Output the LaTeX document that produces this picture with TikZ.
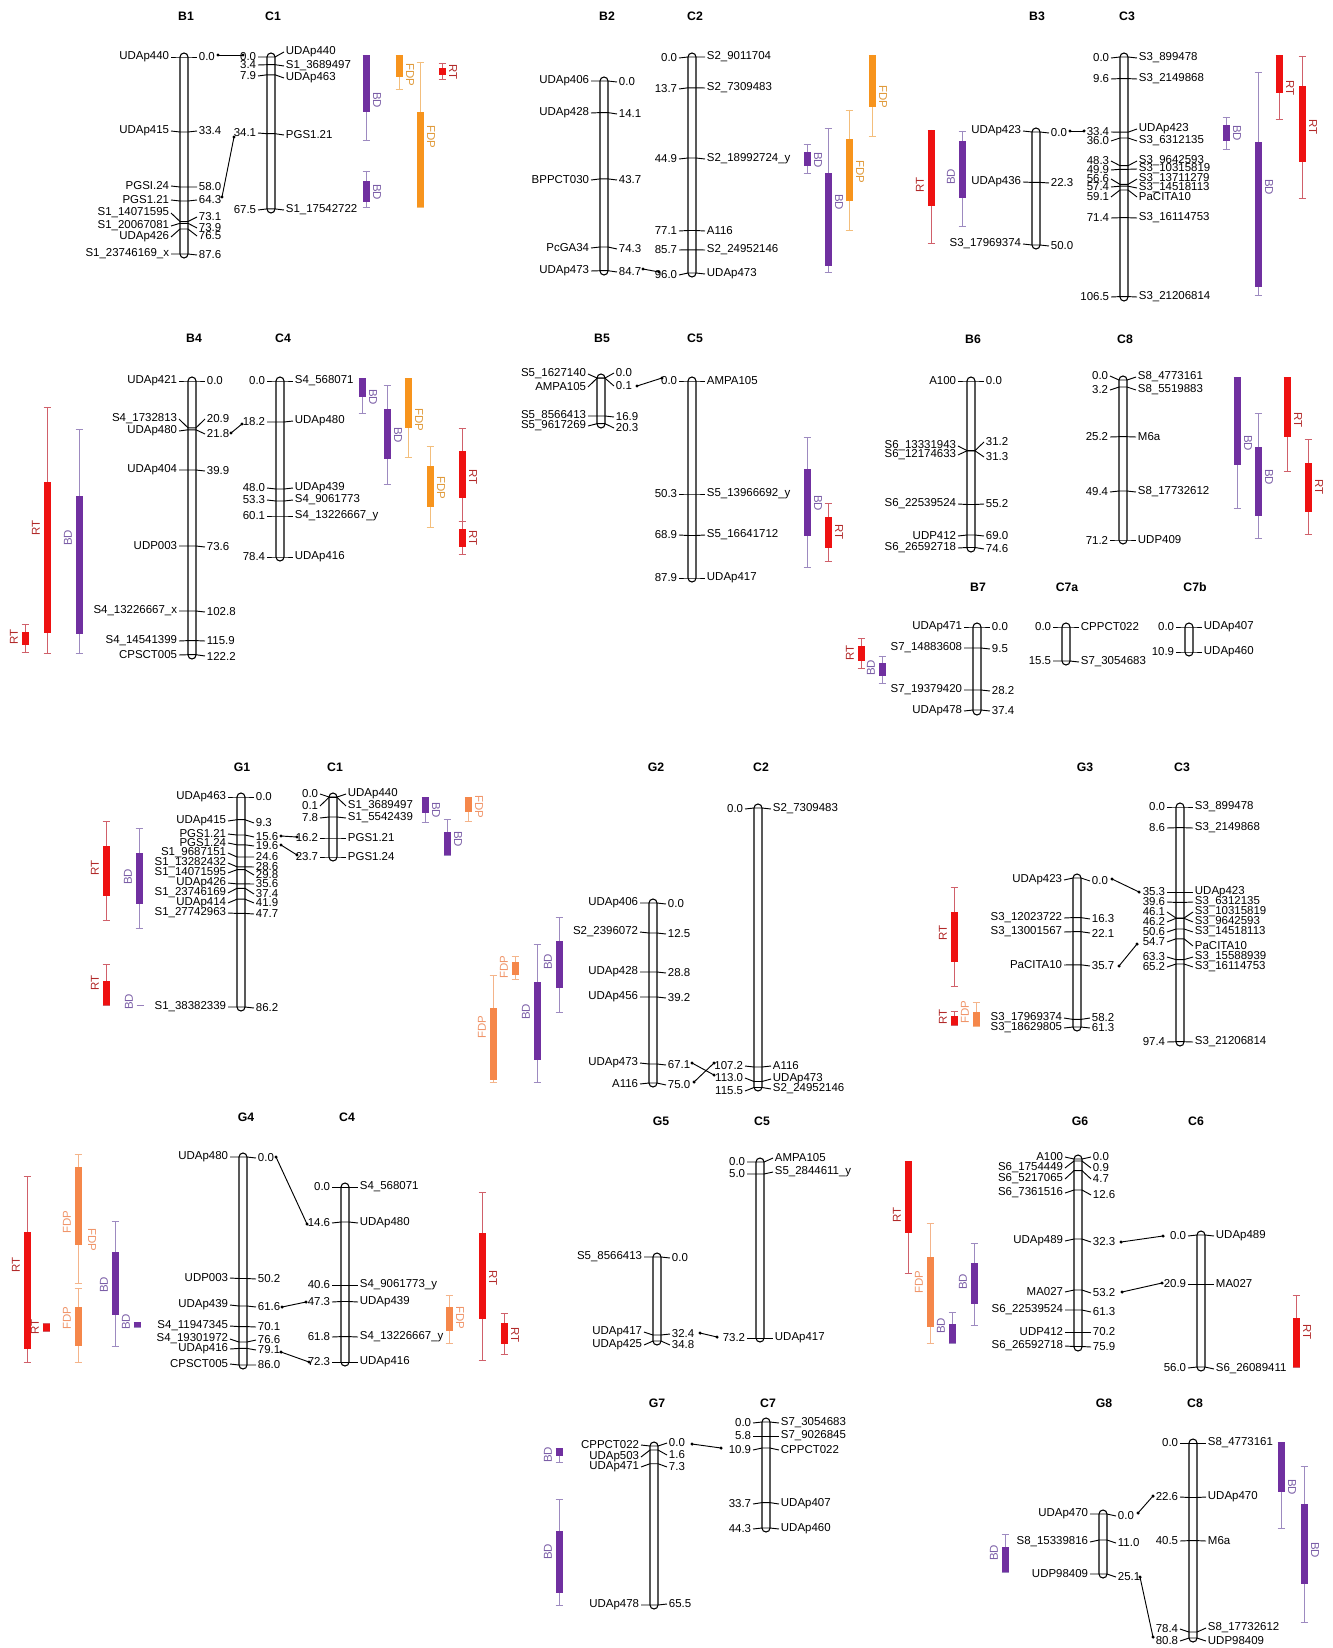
\documentclass[tikz,border=0pt]{standalone}
\usepackage{fontspec}
\setmainfont{Liberation Sans}
\definecolor{reC}{HTML}{EE1111}\definecolor{reW}{HTML}{D0606A}\definecolor{reL}{HTML}{B22A2A}
\definecolor{puC}{HTML}{7030A0}\definecolor{puW}{HTML}{9D8AC0}\definecolor{puL}{HTML}{7B5EA7}
\definecolor{orC}{HTML}{F7941D}\definecolor{orW}{HTML}{F3BE7C}\definecolor{orL}{HTML}{E09A3A}
\definecolor{saC}{HTML}{F5874A}\definecolor{saW}{HTML}{F4B48A}\definecolor{saL}{HTML}{F0956A}
\newcommand\lblf{\fontsize{8.6}{9}\selectfont}
\newcommand\ttlf{\fontsize{9.2}{10}\selectfont\bfseries}
\newcounter{nn}
\newcommand\chrom[3]{\stepcounter{nn}\draw[chr] (#1-4,#2) rectangle (#1+4,#3);}
\newcommand\mk[6]{\stepcounter{nn}%
 \draw[tk] (#1-13,#3) -- (#1-4,#2) -- (#1+4,#2) -- (#1+13,#5);
 \node[lab,anchor=east] (n\arabic{nn}l) at (#1-14,#3) {#4};
 \node[lab,anchor=west] (n\arabic{nn}r) at (#1+14,#5) {#6};}
\newcommand\qR[8]{\stepcounter{nn}%
 \draw[#6W] (#1,#2) -- (#1,#5) (#1-3.5,#2) -- (#1+3.5,#2) (#1-3.5,#5) -- (#1+3.5,#5);
 \fill[#6B] (#1-3.5,#3) rectangle (#1+3.5,#4);
 \node[lab,#6L,rotate=-90] (q\arabic{nn}) at (#1+11,#8) {#7};}
\newcommand\qL[8]{\stepcounter{nn}%
 \draw[#6W] (#1,#2) -- (#1,#5) (#1-3.5,#2) -- (#1+3.5,#2) (#1-3.5,#5) -- (#1+3.5,#5);
 \fill[#6B] (#1-3.5,#3) rectangle (#1+3.5,#4);
 \node[lab,#6L,rotate=90] (q\arabic{nn}) at (#1-11,#8) {#7};}
\newcommand\conn[4]{\stepcounter{nn}%
 \coordinate (c\arabic{nn}a) at (#1,#2);
 \coordinate (c\arabic{nn}b) at (#3,#4);
 \draw[cn] (c\arabic{nn}a) -- (c\arabic{nn}b);
 \fill (c\arabic{nn}a) circle[radius=1.3pt] (c\arabic{nn}b) circle[radius=1.3pt];}
\newcommand\ttl[3]{\stepcounter{nn}\node[ttlst] (t\arabic{nn}) at (#1,#2) {#3};}
\begin{document}
\begin{tikzpicture}[x=0.75pt,y=-0.75pt,
 chr/.style={draw=black,line width=0.8pt,rounded corners=3pt},
 tk/.style={draw=black,line width=0.7pt},
 lab/.style={font=\lblf,inner sep=0.5pt},
 ttlst/.style={font=\ttlf,inner sep=0pt},
 cn/.style={draw=black,line width=0.7pt},
 qreB/.style={fill=reC},qreW/.style={draw=reW,line width=0.6pt},qreL/.style={text=reL},
 qpuB/.style={fill=puC},qpuW/.style={draw=puW,line width=0.6pt},qpuL/.style={text=puL},
 qorB/.style={fill=orC},qorW/.style={draw=orW,line width=0.6pt},qorL/.style={text=orL},
 qsaB/.style={fill=saC},qsaW/.style={draw=saW,line width=0.6pt},qsaL/.style={text=saL}]
\fill[white] (0,0) rectangle (1333,1648);
\useasboundingbox (0,0) rectangle (1333,1648);
% ---------- Panel B1 / C1
\ttl{186}{16}{B1}\ttl{273}{16}{C1}
\chrom{184}{53}{258}
\mk{184}{57}{57}{UDAp440}{57}{0.0}
\mk{184}{132}{131}{UDAp415}{131}{33.4}
\mk{184}{187}{186}{PGSI.24}{187}{58.0}
\mk{184}{201}{200}{PGS1.21}{200}{64.3}
\mk{184}{221.5}{213}{S1\_14071595}{217}{73.1}
\mk{184}{223.3}{226}{S1\_20067081}{228}{73.9}
\mk{184}{229}{237}{UDAp426}{236}{76.5}
\mk{184}{254}{254}{S1\_23746169\_x}{255}{87.6}
\chrom{271}{53}{213}
\mk{271}{57}{57}{0.0}{52}{UDAp440}
\mk{271}{64.7}{65}{3.4}{66}{S1\_3689497}
\mk{271}{74.8}{76}{7.9}{78}{UDAp463}
\mk{271}{133.7}{133}{34.1}{135}{PGS1.21}
\mk{271}{208.9}{210}{67.5}{210}{S1\_17542722}
\conn{218}{55}{243}{55}
\conn{222}{197}{234}{137}
\qR{366}{55}{55}{112}{140}{qpu}{BD}{100}
\qR{366}{171}{181}{202}{207}{qpu}{BD}{192}
\qR{399}{55}{55}{77}{89}{qor}{FDP}{75}
\qR{420}{62}{112}{207}{207}{qor}{FDP}{137}
\qR{442}{63}{68}{75}{79}{qre}{RT}{72}
% ---------- Panel B2 / C2
\ttl{607}{16}{B2}\ttl{695}{16}{C2}
\chrom{604}{77}{275}
\mk{604}{81}{81}{UDAp406}{82}{0.0}
\mk{604}{112.6}{113}{UDAp428}{114}{14.1}
\mk{604}{178.9}{180}{BPPCT030}{180}{43.7}
\mk{604}{247}{248}{PcGA34}{249}{74.3}
\mk{604}{270.7}{271}{UDAp473}{272}{84.7}
\chrom{692}{53}{277}
\mk{692}{57}{58}{0.0}{57}{S2\_9011704}
\mk{692}{87.8}{89}{13.7}{88}{S2\_7309483}
\mk{692}{158}{159}{44.9}{159}{S2\_18992724\_y}
\mk{692}{230.5}{231}{77.1}{231}{A116}
\mk{692}{249.8}{250}{85.7}{250}{S2\_24952146}
\mk{692}{273}{275}{96.0}{274}{UDAp473}
\conn{643}{269}{659}{272}
\qR{872}{55}{55}{107}{136}{qor}{FDP}{97}
\qR{849}{110}{139}{201}{230}{qor}{FDP}{172}
\qR{807}{144}{152}{166}{173}{qpu}{BD}{160}
\qR{828}{128}{173}{266}{272}{qpu}{BD}{202}
% ---------- Panel B3 / C3
\ttl{1037}{16}{B3}\ttl{1127}{16}{C3}
\chrom{1036}{128}{249}
\mk{1036}{132}{131}{UDAp423}{133}{0.0}
\mk{1036}{182.4}{182}{UDAp436}{183}{22.3}
\mk{1036}{245}{244}{S3\_17969374}{246}{50.0}
\chrom{1124}{53}{301}
\mk{1124}{57}{58}{0.0}{58}{S3\_899478}
\mk{1124}{78.6}{79}{9.6}{79}{S3\_2149868}
\mk{1124}{132.2}{132}{33.4}{129}{UDAp423}
\mk{1124}{138}{141}{36.0}{141}{S3\_6312135}
\mk{1124}{165.7}{161}{48.3}{161}{S3\_9642593}
\mk{1124}{169.3}{170}{49.9}{169}{S3\_10315819}
\mk{1124}{184.4}{179}{56.6}{179}{S3\_13711279}
\mk{1124}{186.2}{187}{57.4}{188}{S3\_14518113}
\mk{1124}{190}{197}{59.1}{197}{PaCITA10}
\mk{1124}{217.7}{218}{71.4}{218}{S3\_16114753}
\mk{1124}{296.6}{297}{106.5}{297}{S3\_21206814}
\conn{1070}{131}{1084}{131}
\qL{931}{130}{130}{206}{243}{qre}{RT}{185}
\qL{962}{131}{141}{198}{226}{qpu}{BD}{177}
\qR{1226}{117}{125}{141}{149}{qpu}{BD}{133}
\qR{1258}{72}{142}{287}{295}{qpu}{BD}{187}
\qR{1279}{55}{55}{93}{119}{qre}{RT}{88}
\qR{1302}{56}{86}{162}{198}{qre}{RT}{127}
% ---------- Panel B4 / C4
\ttl{194}{338}{B4}\ttl{283}{338}{C4}
\chrom{192}{377}{659}
\mk{192}{381}{381}{UDAp421}{381}{0.0}
\mk{192}{427.8}{419}{S4\_1732813}{419}{20.9}
\mk{192}{429.8}{431}{UDAp480}{434}{21.8}
\mk{192}{470}{470}{UDAp404}{471}{39.9}
\mk{192}{546}{546}{UDP003}{547}{73.6}
\mk{192}{611}{611}{S4\_13226667\_x}{612}{102.8}
\mk{192}{640.6}{641}{S4\_14541399}{641}{115.9}
\mk{192}{654.7}{655}{CPSCT005}{656}{122.2}
\chrom{280}{377}{561}
\mk{280}{381}{381}{0.0}{381}{S4\_568071}
\mk{280}{422}{422}{18.2}{421}{UDAp480}
\mk{280}{489}{488}{48.0}{488}{UDAp439}
\mk{280}{501}{500}{53.3}{500}{S4\_9061773}
\mk{280}{516}{516}{60.1}{516}{S4\_13226667\_y}
\mk{280}{557}{557}{78.4}{557}{UDAp416}
\conn{231}{433}{242}{424}
\qL{47}{407}{482}{633}{653}{qre}{RT}{528}
\qL{79}{429}{496}{634}{653}{qpu}{BD}{538}
\qL{25}{624}{632}{645}{652}{qre}{RT}{637}
\qR{362}{378}{378}{397}{413}{qpu}{BD}{397}
\qR{387}{385}{409}{459}{484}{qpu}{BD}{435}
\qR{408}{378}{378}{428}{457}{qor}{FDP}{420}
\qR{430}{446}{466}{507}{527}{qor}{FDP}{488}
\qR{462}{428}{451}{498}{521}{qre}{RT}{477}
\qR{462}{521}{529}{547}{554}{qre}{RT}{538}
% ---------- Panel B5 / C5
\ttl{602}{338}{B5}\ttl{695}{338}{C5}
\chrom{601}{374}{428}
\mk{601}{378}{374}{S5\_1627140}{373}{0.0}
\mk{601}{378.2}{387}{AMPA105}{386}{0.1}
\mk{601}{416}{416}{S5\_8566413}{417}{16.9}
\mk{601}{423.7}{426}{S5\_9617269}{428}{20.3}
\chrom{692}{377}{582}
\mk{692}{381}{381}{0.0}{381}{AMPA105}
\mk{692}{494}{494}{50.3}{494}{S5\_13966692\_y}
\mk{692}{535.5}{535}{68.9}{535}{S5\_16641712}
\mk{692}{578}{578}{87.9}{578}{UDAp417}
\conn{637}{386}{662}{378}
\qR{807}{437}{469}{536}{567}{qpu}{BD}{503}
\qR{828}{503}{517}{548}{561}{qre}{RT}{532}
% ---------- Panel B6 / C8
\ttl{973}{339}{B6}\ttl{1125}{339}{C8}
\chrom{971}{377}{552}
\mk{971}{381}{381}{A100}{381}{0.0}
\mk{971}{450.6}{446}{S6\_13331943}{442}{31.2}
\mk{971}{450.8}{455}{S6\_12174633}{457}{31.3}
\mk{971}{504.5}{504}{S6\_22539524}{504}{55.2}
\mk{971}{535}{536}{UDP412}{536}{69.0}
\mk{971}{547.5}{548}{S6\_26592718}{549}{74.6}
\chrom{1123}{376}{544}
\mk{1123}{380}{376}{0.0}{377}{S8\_4773161}
\mk{1123}{387}{390}{3.2}{390}{S8\_5519883}
\mk{1123}{436.7}{437}{25.2}{437}{M6a}
\mk{1123}{491}{492}{49.4}{492}{S8\_17732612}
\mk{1123}{540}{540}{71.2}{540}{UDP409}
\qR{1237}{377}{377}{465}{508}{qpu}{BD}{443}
\qR{1258}{413}{447}{516}{538}{qpu}{BD}{477}
\qR{1287}{377}{377}{437}{471}{qre}{RT}{420}
\qR{1308}{439}{463}{512}{534}{qre}{RT}{487}
% ---------- Panel B7 / C7a / C7b
\ttl{978}{587}{B7}\ttl{1067}{587}{C7a}\ttl{1195}{587}{C7b}
\chrom{977}{623}{715}
\mk{977}{627}{627}{UDAp471}{627}{0.0}
\mk{977}{648}{648}{S7\_14883608}{649}{9.5}
\mk{977}{690}{690}{S7\_19379420}{691}{28.2}
\mk{977}{710}{711}{UDAp478}{711}{37.4}
\chrom{1066}{623}{665}
\mk{1066}{627}{627}{0.0}{627}{CPPCT022}
\mk{1066}{661}{661}{15.5}{662}{S7\_3054683}
\chrom{1189}{623}{656}
\mk{1189}{627}{627}{0.0}{627}{UDAp407}
\mk{1189}{652}{652}{10.9}{652}{UDAp460}
\qL{861}{638}{646}{661}{668}{qre}{RT}{653}
\qL{882}{656}{663}{676}{683}{qpu}{BD}{668}
% ---------- Panel G1 / C1
\ttl{242}{767}{G1}\ttl{335}{767}{C1}
\chrom{241}{793}{1011}
\mk{241}{797}{797}{UDAp463}{797}{0.0}
\mk{241}{819.7}{821}{UDAp415}{823}{9.3}
\mk{241}{835}{834}{PGS1.21}{837}{15.6}
\mk{241}{844.8}{843}{PGS1.24}{846}{19.6}
\mk{241}{857}{853}{S1\_9687151}{857}{24.6}
\mk{241}{866.8}{863}{S1\_13282432}{867}{28.6}
\mk{241}{869.7}{873}{S1\_14071595}{875}{29.8}
\mk{241}{883.9}{883}{UDAp426}{884}{35.6}
\mk{241}{888.3}{893}{S1\_23746169}{894}{37.4}
\mk{241}{899.2}{903}{UDAp414}{903}{41.9}
\mk{241}{913.4}{913}{S1\_27742963}{914}{47.7}
\mk{241}{1007}{1007}{S1\_38382339}{1008}{86.2}
\chrom{333}{793}{861}
\mk{333}{797}{794}{0.0}{794}{UDAp440}
\mk{333}{797.3}{806}{0.1}{806}{S1\_3689497}
\mk{333}{817}{818}{7.8}{818}{S1\_5542439}
\mk{333}{838}{838}{16.2}{838}{PGS1.21}
\mk{333}{857}{857}{23.7}{857}{PGS1.24}
\conn{281}{836}{297}{837}
\conn{281}{845}{297}{855}
\qL{106}{821}{846}{896}{920}{qre}{RT}{868}
\qL{139}{828}{853}{904}{928}{qpu}{BD}{877}
\qL{106}{964}{981}{1005}{1005}{qre}{RT}{983}
\qL{140}{1005}{1005}{1005}{1005}{qpu}{BD}{1002}
\qR{425}{797}{797}{813}{822}{qpu}{BD}{810}
\qR{447}{819}{832}{855}{855}{qpu}{BD}{839}
\qR{468}{797}{797}{812}{821}{qsa}{FDP}{807}
% ---------- Panel G2 / C2
\ttl{656}{767}{G2}\ttl{761}{767}{C2}
\chrom{653}{899}{1087}
\mk{653}{903}{903}{UDAp406}{904}{0.0}
\mk{653}{933}{932}{S2\_2396072}{934}{12.5}
\mk{653}{972}{972}{UDAp428}{973}{28.8}
\mk{653}{997}{997}{UDAp456}{998}{39.2}
\mk{653}{1064}{1063}{UDAp473}{1065}{67.1}
\mk{653}{1083}{1084}{A116}{1085}{75.0}
\chrom{758}{804}{1091}
\mk{758}{808}{809}{0.0}{809}{S2\_7309483}
\mk{758}{1067}{1066}{107.2}{1066}{A116}
\mk{758}{1081.5}{1078}{113.0}{1079}{UDAp473}
\mk{758}{1087.5}{1091}{115.5}{1089}{S2\_24952146}
\conn{692}{1063}{714}{1075}
\conn{694}{1082}{714}{1063}
\qL{493}{975}{1008}{1080}{1082}{qsa}{FDP}{1027}
\qL{515}{956}{962}{975}{979}{qsa}{FDP}{967}
\qL{537}{944}{982}{1060}{1082}{qpu}{BD}{1012}
\qL{559}{917}{941}{988}{1012}{qpu}{BD}{962}
% ---------- Panel G3 / C3
\ttl{1085}{767}{G3}\ttl{1182}{767}{C3}
\chrom{1077}{874}{1031}
\mk{1077}{878}{880}{UDAp423}{881}{0.0}
\mk{1077}{917.6}{918}{S3\_12023722}{919}{16.3}
\mk{1077}{931.7}{932}{S3\_13001567}{933}{22.1}
\mk{1077}{964.8}{965}{PaCITA10}{966}{35.7}
\mk{1077}{1019.4}{1018}{S3\_17969374}{1018}{58.2}
\mk{1077}{1027}{1028}{S3\_18629805}{1028}{61.3}
\chrom{1180}{803}{1046}
\mk{1180}{807}{807}{0.0}{807}{S3\_899478}
\mk{1180}{827.7}{828}{8.6}{828}{S3\_2149868}
\mk{1180}{892}{892}{35.3}{892}{UDAp423}
\mk{1180}{902.4}{902}{39.6}{902}{S3\_6312135}
\mk{1180}{918}{912}{46.1}{912}{S3\_10315819}
\mk{1180}{918.3}{922}{46.2}{922}{S3\_9642593}
\mk{1180}{929}{932}{50.6}{932}{S3\_14518113}
\mk{1180}{938.8}{942}{54.7}{946}{PaCITA10}
\mk{1180}{959.6}{957}{63.3}{957}{S3\_15588939}
\mk{1180}{964}{967}{65.2}{967}{S3\_16114753}
\mk{1180}{1041.7}{1042}{97.4}{1042}{S3\_21206814}
\conn{1112}{879}{1139}{892}
\conn{1119}{966}{1137}{944}
\qL{954}{887}{912}{962}{986}{qre}{RT}{933}
\qL{954}{1011}{1016}{1025}{1025}{qre}{RT}{1017}
\qL{976}{1002}{1012}{1026}{1026}{qsa}{FDP}{1012}
% ---------- Panel G4 / C4
\ttl{246}{1117}{G4}\ttl{347}{1117}{C4}
\chrom{243}{1153}{1369}
\mk{243}{1157}{1157}{UDAp480}{1158}{0.0}
\mk{243}{1278.5}{1278}{UDP003}{1279}{50.2}
\mk{243}{1306}{1305}{UDAp439}{1307}{61.6}
\mk{243}{1326.6}{1326}{S4\_11947345}{1327}{70.1}
\mk{243}{1342}{1339}{S4\_19301972}{1340}{76.6}
\mk{243}{1348.4}{1349}{UDAp416}{1350}{79.1}
\mk{243}{1365}{1364}{CPSCT005}{1365}{86.0}
\chrom{345}{1183}{1366}
\mk{345}{1187}{1187}{0.0}{1187}{S4\_568071}
\mk{345}{1222}{1223}{14.6}{1223}{UDAp480}
\mk{345}{1285}{1285}{40.6}{1285}{S4\_9061773\_y}
\mk{345}{1301.5}{1302}{47.3}{1302}{UDAp439}
\mk{345}{1336.6}{1337}{61.8}{1337}{S4\_13226667\_y}
\mk{345}{1362}{1362}{72.3}{1362}{UDAp416}
\conn{276}{1157}{307}{1224}
\conn{282}{1307}{306}{1302}
\conn{281}{1352}{309}{1362}
\qL{27}{1176}{1232}{1349}{1362}{qre}{RT}{1265}
\qL{46}{1323}{1324}{1331}{1331}{qre}{RT}{1327}
\qL{78}{1154}{1167}{1245}{1283}{qsa}{FDP}{1222}
\qL{78}{1288}{1307}{1346}{1362}{qsa}{FDP}{1318}
\node[lab,qsaL,rotate=-90] (xfdp) at (92,1240) {FDP};
\qL{115}{1221}{1252}{1315}{1346}{qpu}{BD}{1285}
\qL{137}{1322}{1322}{1327}{1327}{qpu}{BD}{1322}
\qR{449}{1295}{1307}{1331}{1343}{qsa}{FDP}{1318}
\qR{482}{1192}{1233}{1319}{1360}{qre}{RT}{1278}
\qR{504}{1313}{1323}{1344}{1354}{qre}{RT}{1335}
% ---------- Panel G5 / C5
\ttl{661}{1121}{G5}\ttl{762}{1121}{C5}
\chrom{657}{1253}{1345}
\mk{657}{1257}{1257}{S5\_8566413}{1258}{0.0}
\mk{657}{1335}{1332}{UDAp417}{1334}{32.4}
\mk{657}{1341}{1345}{UDAp425}{1345}{34.8}
\chrom{760}{1158}{1342}
\mk{760}{1162}{1162}{0.0}{1158}{AMPA105}
\mk{760}{1174}{1174}{5.0}{1172}{S5\_2844611\_y}
\mk{760}{1338}{1338}{73.2}{1338}{UDAp417}
\conn{700}{1333}{717}{1337}
\qL{908}{1161}{1161}{1233}{1273}{qre}{RT}{1215}
\qL{930}{1223}{1257}{1327}{1343}{qsa}{FDP}{1282}
\qL{952}{1312}{1324}{1343}{1343}{qpu}{BD}{1326}
\qL{974}{1243}{1263}{1304}{1325}{qpu}{BD}{1282}
% ---------- Panel G6 / C6
\ttl{1080}{1121}{G6}\ttl{1196}{1121}{C6}
\chrom{1078}{1155}{1351}
\mk{1078}{1159}{1157}{A100}{1157}{0.0}
\mk{1078}{1161}{1168}{S6\_1754449}{1168}{0.9}
\mk{1078}{1170.6}{1179}{S6\_5217065}{1179}{4.7}
\mk{1078}{1190}{1193}{S6\_7361516}{1195}{12.6}
\mk{1078}{1239}{1241}{UDAp489}{1242}{32.3}
\mk{1078}{1290}{1292}{MA027}{1293}{53.2}
\mk{1078}{1310}{1310}{S6\_22539524}{1312}{61.3}
\mk{1078}{1332}{1332}{UDP412}{1332}{70.2}
\mk{1078}{1346.5}{1346}{S6\_26592718}{1347}{75.9}
\chrom{1201}{1231}{1371}
\mk{1201}{1235}{1236}{0.0}{1236}{UDAp489}
\mk{1201}{1284}{1284}{20.9}{1284}{MA027}
\mk{1201}{1367}{1368}{56.0}{1369}{S6\_26089411}
\conn{1121}{1242}{1163}{1236}
\conn{1122}{1292}{1162}{1283}
\qR{1296}{1295}{1318}{1367}{1367}{qre}{RT}{1332}
% ---------- Panel G7 / C7
\ttl{657}{1403}{G7}\ttl{768}{1403}{C7}
\chrom{654}{1442}{1609}
\mk{654}{1446}{1445}{CPPCT022}{1443}{0.0}
\mk{654}{1450}{1457}{UDAp503}{1455}{1.6}
\mk{654}{1463.7}{1467}{UDAp471}{1467}{7.3}
\mk{654}{1605}{1605}{UDAp478}{1604}{65.5}
\chrom{766}{1418}{1532}
\mk{766}{1422}{1423}{0.0}{1423}{S7\_3054683}
\mk{766}{1436}{1436}{5.8}{1436}{S7\_9026845}
\mk{766}{1448}{1450}{10.9}{1450}{CPPCT022}
\mk{766}{1502.6}{1504}{33.7}{1504}{UDAp407}
\mk{766}{1528}{1529}{44.3}{1529}{UDAp460}
\conn{692}{1444}{721}{1448}
\qL{559}{1448}{1448}{1456}{1462}{qpu}{BD}{1455}
\qL{559}{1499}{1531}{1593}{1605}{qpu}{BD}{1552}
% ---------- Panel G8 / C8
\ttl{1104}{1403}{G8}\ttl{1195}{1403}{C8}
\chrom{1103}{1510}{1578}
\mk{1103}{1514}{1514}{UDAp470}{1516}{0.0}
\mk{1103}{1540}{1542}{S8\_15339816}{1543}{11.0}
\mk{1103}{1574}{1574}{UDP98409}{1577}{25.1}
\chrom{1193}{1439}{1642}
\mk{1193}{1443}{1443}{0.0}{1443}{S8\_4773161}
\mk{1193}{1497.5}{1497}{22.6}{1497}{UDAp470}
\mk{1193}{1540.6}{1541}{40.5}{1541}{M6a}
\mk{1193}{1632}{1629}{78.4}{1628}{S8\_17732612}
\mk{1193}{1638}{1641}{80.8}{1641}{UDP98409}
\conn{1138}{1513}{1153}{1496}
\conn{1140}{1577}{1153}{1637}
\qL{1005}{1534}{1547}{1572}{1572}{qpu}{BD}{1553}
\qR{1281}{1442}{1442}{1492}{1528}{qpu}{BD}{1487}
\qR{1304}{1466}{1504}{1584}{1622}{qpu}{BD}{1550}
\end{tikzpicture}
\end{document}
